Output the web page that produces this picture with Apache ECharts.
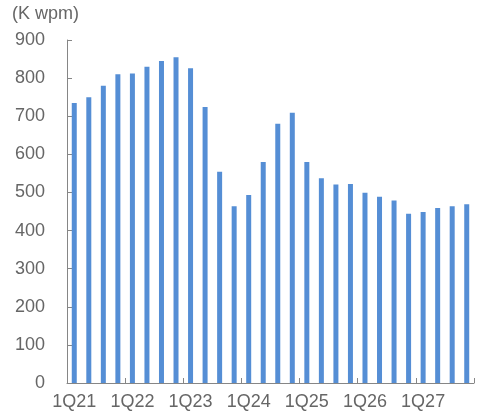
<!DOCTYPE html>
<html><head><meta charset="utf-8">
<script src="https://cdn.jsdelivr.net/npm/echarts@6/dist/echarts.min.js"></script>
<style>html,body{margin:0;padding:0;background:#fff}#c{width:480px;height:419px}</style>
</head><body><div id="c"></div>
<script>
const categories = ['1Q21','2Q21','3Q21','4Q21','1Q22','2Q22','3Q22','4Q22','1Q23','2Q23','3Q23','4Q23','1Q24','2Q24','3Q24','4Q24','1Q25','2Q25','3Q25','4Q25','1Q26','2Q26','3Q26','4Q26','1Q27','2Q27','3Q27','4Q27'];
const values = [735,750,780,810,812,830,845,855,826,724,554,464,493,580,680,709,580,537,521,522,499,489,479,444,449,459,464,469];
const unitLabel = '(K wpm)';
const chart = echarts.init(document.getElementById('c'));
const font = '"Liberation Sans", Arial, sans-serif';
chart.setOption({
  animation:false,
  graphic:[{type:'text',left:12,top:5,style:{text:unitLabel,font:'18px '+font,fill:'#666666'}}],
  grid:{left:67,right:6,top:40,bottom:36,containLabel:false},
  xAxis:{type:'category',data:categories,boundaryGap:true,
    axisLine:{lineStyle:{color:'#868686',width:1}},
    axisTick:{show:true,inside:true,length:5,interval:3,lineStyle:{color:'#868686'}},
    axisLabel:{interval:3,color:'#666666',fontSize:18,fontFamily:font,margin:10}},
  yAxis:{type:'value',min:0,max:900,interval:100,
    axisLine:{show:true,lineStyle:{color:'#868686',width:1}},
    axisTick:{show:true,inside:true,length:5,lineStyle:{color:'#868686'}},
    splitLine:{show:false},
    axisLabel:{color:'#666666',fontSize:18,fontFamily:font,margin:22}},
  series:[{type:'bar',data:values,barWidth:5,itemStyle:{color:'#558ed5'}}]
});
</script></body></html>
